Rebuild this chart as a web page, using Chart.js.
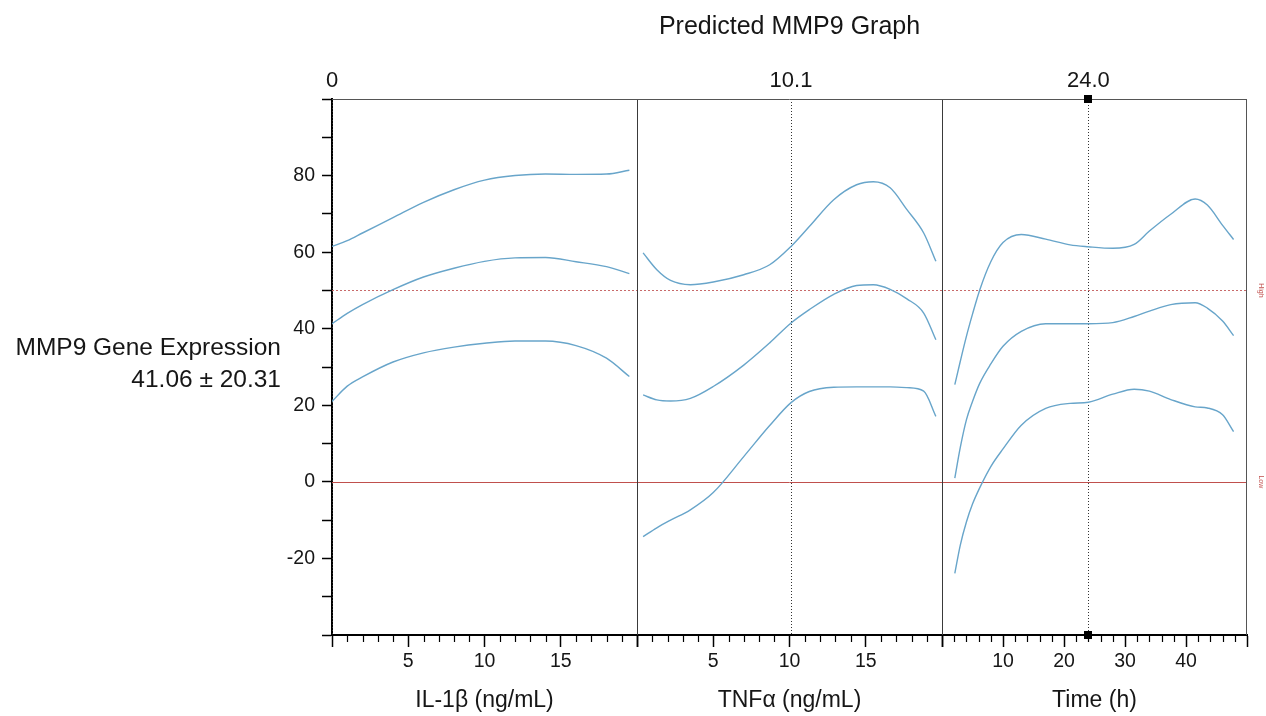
<!DOCTYPE html>
<html>
<head>
<meta charset="utf-8">
<title>Predicted MMP9 Graph</title>
<script src="https://cdn.jsdelivr.net/npm/chart.js@4"></script>
<style>
  html, body { margin: 0; padding: 0; background: #fff; }
</style>
</head>
<body>
<canvas id="chart" width="1266" height="716"></canvas>
<script>
// profiler factors
const factorNames = ["IL-1β (ng/mL)", "TNFα (ng/mL)", "Time (h)"];
const factorMin = [0, 0, 0];
const factorMax = [20, 20, 50];
const factorStep = [5, 5, 10];
const factorMinorStep = [1, 1, 2];
const factorTickLabels = [[5, 10, 15], [5, 10, 15], [10, 20, 30, 40]];
const currentValues = [0, 10.1, 24.0];
const currentLabels = ["0", "10.1", "24.0"];
const activeFactor = 2;

// response axis
const yMin = -40, yMax = 100;
const yTickLabels = [-20, 0, 20, 40, 60, 80];
const responseName = "MMP9 Gene Expression";
const responseValue = "41.06 ± 20.31";
const upperLimit = 50;
const lowerLimit = 0;
const limitLabels = ["High", "Low"];

// IL-1β panel
const il1bX = [0, 1, 2, 4, 6, 8, 10, 12, 14, 16, 18, 19.5];
const il1bUpper = [61.5, 63, 65, 69, 73, 76.3, 78.8, 80, 80.4, 80.3, 80.4, 81.4];
const il1bMid = [41.3, 44, 46.3, 50.2, 53.5, 55.8, 57.6, 58.5, 58.6, 57.5, 56.2, 54.4];
const il1bLower = [21, 25, 27.4, 31.3, 33.7, 35.2, 36.2, 36.8, 36.8, 35.6, 32.3, 27.5];

// TNFα panel
const tnfX = [0.4, 1.3, 2.2, 3.5, 5, 7, 8.7, 10.1, 11.3, 12.9, 14.4, 15.5, 16.6, 17.7, 18.8, 19.6];
const tnfUpper = [59.8, 55.4, 52.6, 51.5, 52.2, 54.1, 56.7, 61.5, 66.7, 73.7, 77.6, 78.4, 76.8, 71.1, 65, 57.6];
const tnfMid = [22.7, 21.4, 21.1, 21.8, 24.9, 30.5, 36.3, 41.5, 45, 49, 51.3, 51.5, 50.3, 47.8, 44.1, 37.1];
const tnfLower = [-14.3, -12, -10, -7.3, -2.8, 6.6, 14.7, 20.7, 23.6, 24.7, 24.8, 24.8, 24.8, 24.6, 23.7, 17.1];

// Time panel
const timeX = [2.1, 3, 4, 5, 6.2, 8, 10, 13, 17, 21, 24, 28, 31.5, 34, 37.5, 41.5, 43.5, 46, 47.8];
const timeUpper = [25.4, 31.5, 38, 43.8, 50.2, 57.5, 62.5, 64.6, 63.4, 61.9, 61.4, 61, 62, 65.5, 69.9, 73.9, 72.3, 67, 63.3];
const timeMid = [1, 9, 16.2, 21, 25.8, 30.8, 35.4, 39.3, 41.3, 41.3, 41.3, 41.6, 43.2, 44.6, 46.3, 46.8, 45.4, 42, 38.2];
const timeLower = [-23.9, -16.5, -10.5, -5.8, -1.5, 4, 8.6, 14.8, 19.2, 20.5, 20.8, 22.9, 24.2, 23.7, 21.5, 19.6, 19.3, 17.5, 13.1];

const FONT = "'Liberation Sans', Arial, Helvetica, sans-serif";
const CURVE = "#68a5ca";
const TEXT = "#161616";

Chart.defaults.font.family = FONT;

function pts(xs, ys) {
  return xs.map((x, i) => ({ x: x, y: ys[i] }));
}

function curve(xs, ys, axis) {
  return {
    data: pts(xs, ys),
    xAxisID: axis,
    yAxisID: "y",
    borderColor: CURVE,
    borderWidth: 1.4,
    pointRadius: 0,
    cubicInterpolationMode: "monotone",
    fill: false
  };
}

const datasets = [
  curve(il1bX, il1bUpper, "x0"),
  curve(il1bX, il1bMid, "x0"),
  curve(il1bX, il1bLower, "x0"),
  curve(tnfX, tnfUpper, "x1"),
  curve(tnfX, tnfMid, "x1"),
  curve(tnfX, tnfLower, "x1"),
  curve(timeX, timeUpper, "x2"),
  curve(timeX, timeMid, "x2"),
  curve(timeX, timeLower, "x2")
];

const scales = {
  y: {
    axis: "y",
    position: "left",
    min: yMin,
    max: yMax,
    ticks: {
      stepSize: 10,
      autoSkip: false,
      padding: 7,
      color: TEXT,
      font: { size: 19.5 },
      callback: v => yTickLabels.includes(v) ? String(v) : ""
    },
    grid: { drawOnChartArea: false, tickLength: 10, tickWidth: 1.5, color: "#000" },
    border: { color: "#000", width: 2 },
    afterFit: s => { s.width = 332; }
  }
};

factorNames.forEach((name, i) => {
  scales["x" + i] = {
    type: "linear",
    axis: "x",
    position: "bottom",
    stack: "factors",
    stackWeight: 1,
    min: factorMin[i],
    max: factorMax[i],
    ticks: {
      stepSize: factorStep[i],
      autoSkip: false,
      maxRotation: 0,
      padding: 3,
      color: TEXT,
      font: { size: 19.5 },
      callback: v => factorTickLabels[i].includes(v) ? String(v) : ""
    },
    grid: { drawOnChartArea: false, tickLength: 12, tickWidth: 1.5, color: "#000" },
    border: { color: "#000", width: 2 },
    title: { display: true, text: name, color: TEXT, font: { size: 23 }, padding: { top: 0, bottom: 2 } },
    afterFit: s => { s.height = 81; }
  };
});

function hLine(ctx, x1, x2, y) {
  ctx.beginPath(); ctx.moveTo(x1, y); ctx.lineTo(x2, y); ctx.stroke();
}
function vLine(ctx, x, y1, y2) {
  ctx.beginPath(); ctx.moveTo(x, y1); ctx.lineTo(x, y2); ctx.stroke();
}

const profiler = {
  id: "profiler",
  beforeDatasetsDraw(chart) {
    const { ctx, chartArea: a, scales: sc } = chart;
    ctx.save();
    ctx.lineWidth = 1;

    // limits
    ctx.strokeStyle = "#c86a6a";
    ctx.setLineDash([2, 2]);
    hLine(ctx, a.left, a.right, Math.round(sc.y.getPixelForValue(upperLimit)) + 0.5);
    ctx.setLineDash([]);
    ctx.strokeStyle = "#c0504d";
    hLine(ctx, a.left, a.right, Math.round(sc.y.getPixelForValue(lowerLimit)) + 0.5);

    // current factor settings
    ctx.strokeStyle = "#333";
    ctx.setLineDash([1, 2]);
    currentValues.forEach((v, i) => {
      const px = Math.round(sc["x" + i].getPixelForValue(v)) + 0.5;
      vLine(ctx, px, a.top, a.bottom);
    });
    ctx.setLineDash([]);

    // panel dividers and frame
    ctx.strokeStyle = "#3a3a3a";
    for (let i = 0; i < factorNames.length - 1; i++) {
      vLine(ctx, Math.round(sc["x" + i].right) + 0.5, a.top, a.bottom);
    }
    ctx.strokeStyle = "#555";
    hLine(ctx, a.left, a.right, a.top + 0.5);
    vLine(ctx, a.right - 0.5, a.top, a.bottom);
    ctx.restore();
  },
  afterDraw(chart) {
    const { ctx, chartArea: a, scales: sc } = chart;
    ctx.save();

    // minor ticks
    ctx.strokeStyle = "#000";
    ctx.lineWidth = 1.2;
    factorNames.forEach((n, i) => {
      const s = sc["x" + i];
      for (let v = factorMin[i]; v <= factorMax[i]; v += factorMinorStep[i]) {
        if (v % factorStep[i] === 0) continue;
        const px = Math.round(s.getPixelForValue(v)) + 0.5;
        vLine(ctx, px, a.bottom, a.bottom + 7);
      }
    });

    // markers on the active factor
    const sx = sc["x" + activeFactor].getPixelForValue(currentValues[activeFactor]);
    ctx.fillStyle = "#000";
    ctx.fillRect(Math.round(sx) - 4, a.top - 4, 8, 8);
    ctx.fillRect(Math.round(sx) - 4, a.bottom - 4, 8, 8);

    ctx.fillStyle = TEXT;
    // title
    ctx.font = "25px " + FONT;
    ctx.textAlign = "center";
    ctx.textBaseline = "alphabetic";
    ctx.fillText("Predicted MMP9 Graph", (a.left + a.right) / 2, 34);

    // current values above panels
    ctx.font = "22px " + FONT;
    currentValues.forEach((v, i) => {
      ctx.fillText(currentLabels[i], sc["x" + i].getPixelForValue(v), 87);
    });

    // response label
    ctx.font = "24.5px " + FONT;
    ctx.textAlign = "right";
    ctx.fillText(responseName, 281, 355);
    ctx.fillText(responseValue, 281, 387);

    // limit tags at the right edge
    ctx.fillStyle = "#c0504d";
    ctx.font = "7px " + FONT;
    ctx.textAlign = "center";
    ctx.textBaseline = "middle";
    [upperLimit, lowerLimit].forEach((v, i) => {
      ctx.save();
      ctx.translate(1261, sc.y.getPixelForValue(v));
      ctx.rotate(Math.PI / 2);
      ctx.fillText(limitLabels[i], 0, 0);
      ctx.restore();
    });
    ctx.restore();
  }
};

new Chart(document.getElementById("chart"), {
  type: "line",
  data: { datasets: datasets },
  options: {
    responsive: false,
    animation: false,
    layout: { padding: { left: 0, right: 19, top: 99, bottom: 0 } },
    plugins: { legend: { display: false }, tooltip: { enabled: false } },
    scales: scales
  },
  plugins: [profiler]
});
</script>
</body>
</html>
